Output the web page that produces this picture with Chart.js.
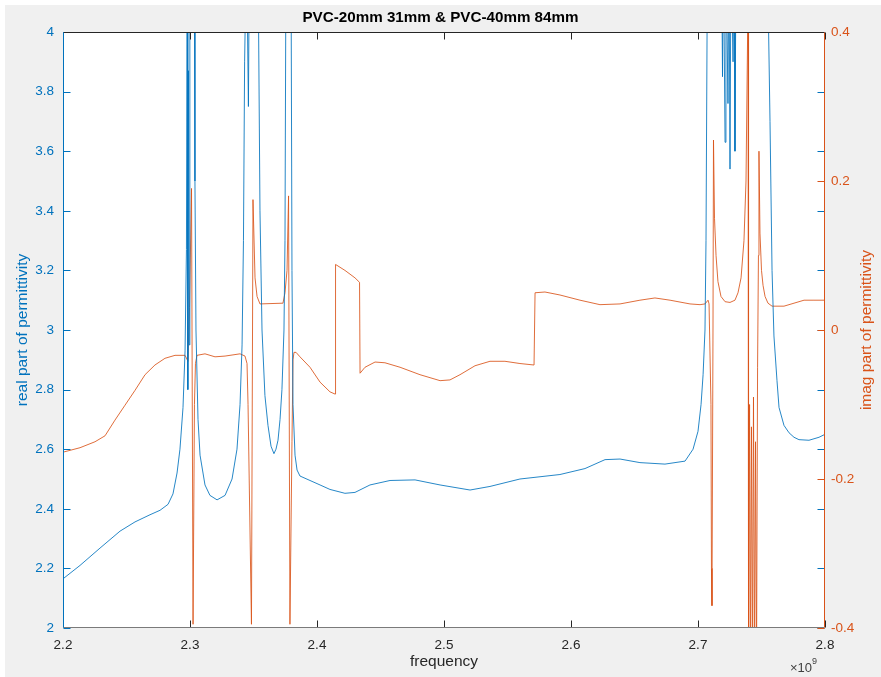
<!DOCTYPE html>
<html>
<head>
<meta charset="utf-8">
<script src="https://cdn.jsdelivr.net/npm/chart.js@4/dist/chart.umd.min.js"></script>
<style>
  html, body { margin: 0; padding: 0; background: #ffffff; }
  #wrap { width: 881px; height: 677px; }
</style>
</head>
<body>
<div id="wrap"><canvas id="c" width="881" height="677"></canvas></div>
<script>
// ---- Data (frequency in units of 1e9 Hz) ----
const chartTitle = 'PVC-20mm 31mm & PVC-40mm 84mm';
const xTickVals = [2.2, 2.3, 2.4, 2.5, 2.6, 2.7, 2.8];
const leftTickVals = [2, 2.2, 2.4, 2.6, 2.8, 3, 3.2, 3.4, 3.6, 3.8, 4];
const rightTickVals = [-0.4, -0.2, 0, 0.2, 0.4];

const realFreq = [
  2.2000, 2.2134, 2.2291, 2.2449, 2.2567, 2.2685, 2.2764, 2.2827, 2.2866, 2.2898,
  2.2921, 2.2945, 2.2961, 2.2972, 2.2978, 2.2983, 2.2988, 2.2993, 2.2999, 2.3035, 2.3039,
  2.3047, 2.3063, 2.3079, 2.3118, 2.3157, 2.3213, 2.3276, 2.3331, 2.3370, 2.3394,
  2.3410, 2.3421, 2.3430, 2.3445, 2.3460, 2.3468, 2.3535, 2.3551, 2.3567, 2.3590,
  2.3614, 2.3638, 2.3661, 2.3677, 2.3693, 2.3709, 2.3724, 2.3740, 2.3748, 2.3756,
  2.3795, 2.3803, 2.3811, 2.3827, 2.3843, 2.3866, 2.3945, 2.4024, 2.4102, 2.4220,
  2.4299, 2.4417, 2.4575, 2.4772, 2.4969, 2.5205, 2.5362, 2.5598, 2.5913, 2.6110,
  2.6268, 2.6386, 2.6543, 2.6740, 2.6898, 2.6961, 2.7000, 2.7024, 2.7040, 2.7055,
  2.7063, 2.7075, 2.7185, 2.7193, 2.7200, 2.7213, 2.7220, 2.7236, 2.7244, 2.7252,
  2.7260, 2.7276, 2.7284, 2.7291, 2.7300, 2.7545, 2.7567, 2.7583, 2.7598, 2.7622,
  2.7638, 2.7677, 2.7717, 2.7756, 2.7795, 2.7874, 2.7953, 2.8000
];
const realVals = [
  2.165, 2.21, 2.268, 2.325, 2.356, 2.38, 2.395, 2.415, 2.45, 2.52,
  2.60, 2.74, 2.93, 3.27, 4.3, 2.80, 3.87, 2.95, 4.3, 4.3, 3.5,
  3.0, 2.7, 2.58, 2.48, 2.445, 2.43, 2.445, 2.50, 2.60, 2.75,
  2.95, 3.3, 3.9, 4.3, 3.75, 4.3, 4.3, 3.4, 3.0, 2.78,
  2.68, 2.61, 2.585, 2.60, 2.63, 2.70, 2.80, 3.0, 3.3, 4.3,
  4.3, 3.2, 2.75, 2.58, 2.53, 2.51, 2.495, 2.48, 2.465, 2.452,
  2.455, 2.48, 2.495, 2.497, 2.48, 2.463, 2.475, 2.50, 2.515, 2.535,
  2.565, 2.567, 2.555, 2.55, 2.56, 2.60, 2.66, 2.75, 2.85, 3.0,
  3.3, 4.3, 4.3, 3.85, 4.3, 3.63, 4.3, 3.76, 4.3, 3.54,
  4.3, 3.9, 4.3, 3.6, 4.3, 4.3, 3.7, 3.2, 2.98, 2.83,
  2.74, 2.68, 2.655, 2.64, 2.632, 2.63, 2.64, 2.65
];

const imagFreq = [
  2.2000, 2.2134, 2.2252, 2.2331, 2.2409, 2.2488, 2.2567, 2.2646, 2.2724, 2.2803,
  2.2882, 2.2961, 2.2984, 2.2996, 2.3012, 2.3024, 2.3035, 2.3043, 2.3055,
  2.3118, 2.3197, 2.3276, 2.3394, 2.3433, 2.3449, 2.3457, 2.3484, 2.3496, 2.3512,
  2.3528, 2.3551, 2.3732, 2.3748, 2.3764, 2.3776, 2.3787, 2.3803, 2.3811, 2.3819,
  2.3835, 2.3866, 2.3945, 2.4024, 2.4102, 2.4142, 2.4146, 2.4220, 2.4299, 2.4335,
  2.4339, 2.4378, 2.4457, 2.4535, 2.4654, 2.4811, 2.4969, 2.5047, 2.5126, 2.5244,
  2.5362, 2.5480, 2.5598, 2.5709, 2.5717, 2.5795, 2.5913, 2.6071, 2.6228, 2.6386,
  2.6543, 2.6661, 2.6780, 2.6937, 2.7016, 2.7055, 2.7079, 2.7087, 2.7102, 2.7106,
  2.7110, 2.7118, 2.7122, 2.7130, 2.7142, 2.7157, 2.7181, 2.7213, 2.7252, 2.7291,
  2.7315, 2.7339, 2.7362, 2.7378, 2.7394, 2.7398, 2.7406, 2.7413, 2.7421, 2.7429,
  2.7437, 2.7445, 2.7453, 2.7461, 2.7469, 2.7476, 2.7480, 2.7488, 2.7500, 2.7512,
  2.7528, 2.7551, 2.7583, 2.7677, 2.7756, 2.7835, 2.7913, 2.8000
];
const imagVals = [
  -0.164, -0.158, -0.150, -0.142, -0.121, -0.101, -0.081, -0.060, -0.047, -0.038,
  -0.034, -0.034, -0.042, 0.03, 0.19, -0.395, -0.10, -0.045, -0.034,
  -0.032, -0.036, -0.035, -0.032, -0.035, -0.045, -0.10, -0.395, 0.175, 0.07,
  0.045, 0.035, 0.036, 0.05, 0.08, 0.18, -0.395, -0.15, -0.04, -0.03,
  -0.03, -0.036, -0.05, -0.07, -0.083, -0.086, 0.088, 0.08, 0.07, 0.064,
  -0.058, -0.05, -0.043, -0.044, -0.05, -0.06, -0.068, -0.067, -0.06, -0.048,
  -0.042, -0.042, -0.045, -0.047, 0.05, 0.051, 0.047, 0.04, 0.034, 0.035,
  0.04, 0.043, 0.04, 0.035, 0.034, 0.035, 0.04, 0.035, -0.10, -0.32,
  -0.37, 0.0, 0.255, 0.15, 0.10, 0.065, 0.045, 0.038, 0.037, 0.04,
  0.05, 0.07, 0.12, 0.2, 0.45, -0.45, -0.10, -0.45, -0.13, -0.45,
  -0.09, -0.45, -0.15, -0.45, -0.05, 0.10, 0.24, 0.13, 0.08, 0.06,
  0.045, 0.036, 0.032, 0.032, 0.036, 0.04, 0.04, 0.04
];

// ---- Styling ----
const BLUE = '#0072BD';
const ORANGE = '#D95319';
const AXIS_DARK = '#262626';
const FONT = '"Liberation Sans", Arial, Helvetica, sans-serif';

function fmt(v) { return String(Number(v.toFixed(2))); }

const framePlugin = {
  id: 'frame',
  beforeDraw(chart) {
    const { ctx, width, height, chartArea: a } = chart;
    ctx.save();
    ctx.fillStyle = '#ffffff';
    ctx.fillRect(0, 0, width, height);
    ctx.fillStyle = '#f0f0f0';
    ctx.fillRect(5, 5, width - 5, height - 5);
    ctx.fillStyle = '#ffffff';
    ctx.fillRect(a.left, a.top, a.right - a.left, a.bottom - a.top);
    ctx.restore();
  },
  afterDraw(chart) {
    const { ctx, chartArea: a, scales } = chart;
    const L = Math.round(a.left) + 0.5, R = Math.round(a.right) - 0.5;
    const T = Math.round(a.top) + 0.5, B = Math.round(a.bottom) - 0.5;
    const tl = 7;
    ctx.save();
    ctx.lineWidth = 1;
    ctx.strokeStyle = AXIS_DARK;
    ctx.beginPath();
    xTickVals.forEach(v => {
      const px = Math.round(scales.x.getPixelForValue(v)) + 0.5;
      ctx.moveTo(px, B); ctx.lineTo(px, B - tl);
      ctx.moveTo(px, T); ctx.lineTo(px, T + tl);
    });
    ctx.stroke();
    ctx.strokeStyle = BLUE;
    ctx.beginPath();
    leftTickVals.forEach(v => {
      const py = Math.round(scales.y.getPixelForValue(v)) + 0.5;
      ctx.moveTo(L, py); ctx.lineTo(L + tl, py);
      ctx.moveTo(R, py); ctx.lineTo(R - tl, py);
    });
    ctx.stroke();
    ctx.strokeStyle = ORANGE;
    ctx.beginPath();
    rightTickVals.forEach(v => {
      const py = Math.round(scales.y1.getPixelForValue(v)) + 0.5;
      ctx.moveTo(R, py); ctx.lineTo(R - tl, py);
    });
    ctx.stroke();
    ctx.strokeStyle = AXIS_DARK;
    ctx.beginPath();
    ctx.moveTo(L, T); ctx.lineTo(R, T);
    ctx.stroke();
    ctx.strokeStyle = '#7a7a7a';
    ctx.beginPath();
    ctx.moveTo(L, B); ctx.lineTo(R, B);
    ctx.stroke();
    ctx.strokeStyle = BLUE;
    ctx.beginPath();
    ctx.moveTo(L, T); ctx.lineTo(L, B);
    ctx.stroke();
    ctx.strokeStyle = ORANGE;
    ctx.beginPath();
    ctx.moveTo(R, T); ctx.lineTo(R, B);
    ctx.stroke();

    // right axis title (reads bottom-to-top like MATLAB)
    ctx.fillStyle = ORANGE;
    ctx.font = '15.5px ' + FONT;
    ctx.textAlign = 'center';
    ctx.textBaseline = 'middle';
    ctx.translate(867, (a.top + a.bottom) / 2);
    ctx.rotate(-Math.PI / 2);
    ctx.fillText('imag part of permittivity', 0, 0);
    ctx.setTransform(1, 0, 0, 1, 0, 0);

    // exponent label
    ctx.fillStyle = '#404040';
    ctx.textAlign = 'left';
    ctx.textBaseline = 'alphabetic';
    ctx.font = '13px ' + FONT;
    ctx.fillText('\u00d710', 790, 672);
    ctx.font = '9px ' + FONT;
    ctx.fillText('9', 812, 664);
    ctx.restore();
  }
};

const ctx = document.getElementById('c').getContext('2d');
new Chart(ctx, {
  type: 'line',
  data: {
    datasets: [
      {
        label: 'real part of permittivity',
        data: realFreq.map((f, i) => ({ x: f, y: realVals[i] })),
        yAxisID: 'y',
        borderColor: 'rgba(0,114,189,0.85)',
        borderWidth: 1,
        pointRadius: 0,
        tension: 0,
        fill: false
      },
      {
        label: 'imag part of permittivity',
        data: imagFreq.map((f, i) => ({ x: f, y: imagVals[i] })),
        yAxisID: 'y1',
        borderColor: 'rgba(217,83,25,0.85)',
        borderWidth: 1,
        pointRadius: 0,
        tension: 0,
        fill: false
      }
    ]
  },
  options: {
    responsive: false,
    animation: false,
    events: [],
    layout: { padding: 0 },
    plugins: {
      legend: { display: false },
      tooltip: { enabled: false },
      title: {
        display: true,
        text: chartTitle,
        color: '#000000',
        font: { family: FONT, size: 15.2, weight: 'bold', lineHeight: 1.2 },
        padding: { top: 9, bottom: 4.76 }
      }
    },
    scales: {
      x: {
        type: 'linear',
        min: 2.2,
        max: 2.8,
        afterBuildTicks(s) { s.ticks = xTickVals.map(v => ({ value: v })); },
        afterFit(s) { s.height = 49; },
        grid: { display: false, drawTicks: false },
        border: { display: false },
        ticks: {
          color: AXIS_DARK,
          font: { family: FONT, size: 13.5 },
          padding: 9,
          maxRotation: 0,
          autoSkip: false,
          callback: v => fmt(v)
        },
        title: {
          display: true,
          text: 'frequency',
          color: AXIS_DARK,
          font: { family: FONT, size: 15.5 },
          padding: { top: 0, bottom: 5.7 }
        }
      },
      y: {
        position: 'left',
        min: 2,
        max: 4,
        afterBuildTicks(s) { s.ticks = leftTickVals.map(v => ({ value: v })); },
        afterFit(s) { s.width = 63; },
        grid: { display: false, drawTicks: false },
        border: { display: false },
        ticks: {
          color: BLUE,
          font: { family: FONT, size: 13.5 },
          padding: 9,
          autoSkip: false,
          callback: v => fmt(v)
        },
        title: {
          display: true,
          text: 'real part of permittivity',
          color: BLUE,
          font: { family: FONT, size: 15.5 },
          padding: { top: 13, bottom: 0 }
        }
      },
      y1: {
        position: 'right',
        min: -0.4,
        max: 0.4,
        afterBuildTicks(s) { s.ticks = rightTickVals.map(v => ({ value: v })); },
        afterFit(s) { s.width = 56; },
        grid: { display: false, drawTicks: false },
        border: { display: false },
        ticks: {
          color: ORANGE,
          font: { family: FONT, size: 13.5 },
          padding: 6,
          autoSkip: false,
          callback: v => fmt(v)
        }
      }
    }
  },
  plugins: [framePlugin]
});
</script>
</body>
</html>
